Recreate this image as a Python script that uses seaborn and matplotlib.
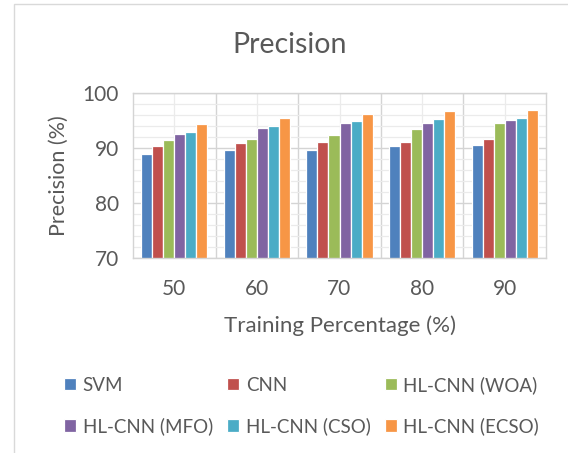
import numpy as np
import pandas as pd
import seaborn as sns
import matplotlib.pyplot as plt
from matplotlib.patches import Rectangle
from matplotlib.ticker import MultipleLocator, FixedLocator

# values
training_pct = ['50', '60', '70', '80', '90']
methods = ['SVM', 'CNN', 'HL-CNN (WOA)', 'HL-CNN (MFO)', 'HL-CNN (CSO)', 'HL-CNN (ECSO)']
svm = [89.0, 89.6, 89.7, 90.4, 90.55]
cnn = [90.4, 91.0, 91.1, 91.15, 91.7]
woa = [91.5, 91.6, 92.4, 93.45, 94.5]
mfo = [92.6, 93.6, 94.5, 94.6, 95.15]
cso = [93.0, 94.0, 94.85, 95.3, 95.5]
ecso = [94.4, 95.5, 96.1, 96.8, 97.0]
colors = ['#4F81BD', '#C0504D', '#9BBB59', '#8064A2', '#4BACC6', '#F79646']

def build_frame():
    series = [svm, cnn, woa, mfo, cso, ecso]
    rows = []
    for name, vals in zip(methods, series):
        for pct, v in zip(training_pct, vals):
            rows.append({'Training': pct, 'Method': name, 'Precision': v})
    return pd.DataFrame(rows)

def plot_chart(df):
    sns.set_style('white')
    plt.rcParams['font.family'] = ['Lato', 'DejaVu Sans']
    text_color = '#595959'

    fig = plt.figure(figsize=(5.68, 4.53), dpi=100)
    ax = fig.add_axes([133 / 568, 1 - 258 / 453, 413 / 568, 165 / 453])

    sns.barplot(data=df, x='Training', y='Precision', hue='Method',
                hue_order=methods, order=training_pct, palette=colors,
                saturation=1, width=0.8, edgecolor='white', linewidth=0.9, ax=ax)

    ax.set_ylim(70, 100)
    ax.set_xlim(-0.5, 4.5)
    ax.yaxis.set_major_locator(MultipleLocator(10))
    ax.yaxis.set_minor_locator(MultipleLocator(2))
    ax.xaxis.set_minor_locator(FixedLocator([0.5, 1.5, 2.5, 3.5]))
    ax.grid(which='major', axis='y', color='#D4D4D4', linewidth=1.0)
    ax.grid(which='minor', axis='y', color='#EBEBEB', linewidth=0.9)
    ax.grid(which='minor', axis='x', color='#D4D4D4', linewidth=1.0)
    ax.grid(which='major', axis='x', color='#EBEBEB', linewidth=0.9)
    ax.set_axisbelow(True)
    for s in ax.spines.values():
        s.set_color('#D4D4D4')
        s.set_linewidth(1.0)
    ax.tick_params(which='both', length=0, labelsize=15, colors=text_color, pad=10)
    ax.tick_params(axis='x', pad=15)

    ax.set_xlabel('Training Percentage (%)', fontsize=16, color=text_color, labelpad=12)
    ax.set_ylabel('Precision (%)', fontsize=15.5, color=text_color, labelpad=10)
    fig.text(0.51, 1 - 45 / 453, 'Precision', ha='center', va='center',
             fontsize=20.5, color=text_color)

    # legend is row-major in the reference; matplotlib fills columns first
    handles, labels = ax.get_legend_handles_labels()
    ax.legend_.remove()
    order = [0, 3, 1, 4, 2, 5]
    fig.legend([handles[i] for i in order], [labels[i] for i in order],
               loc='upper left', bbox_to_anchor=(47 / 568, 1 - 359 / 453),
               ncol=3, frameon=False, fontsize=13.5, labelcolor=text_color,
               handlelength=0.65, handleheight=0.65, handletextpad=0.35,
               columnspacing=0.75, labelspacing=1.25)

    fig.add_artist(Rectangle((14 / 568, -0.05), 1.0, 1 - 4 / 453 + 0.05,
                             transform=fig.transFigure, fill=False,
                             edgecolor='#D9D9D9', linewidth=1.0))
    fig.savefig('out.png', dpi=100)

def main():
    df = build_frame()
    plot_chart(df)

if __name__ == '__main__':
    main()
